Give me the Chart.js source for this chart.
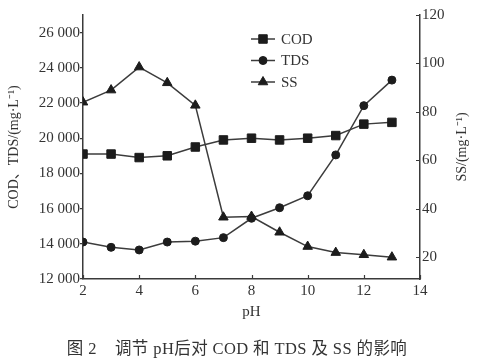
<!DOCTYPE html>
<html>
<head>
<meta charset="utf-8">
<script src="https://cdn.jsdelivr.net/npm/chart.js@4.4.1/dist/chart.umd.min.js"></script>
<style>
  html, body { margin: 0; padding: 0; background: #fff; }
  #wrap { width: 490px; height: 363px; }
</style>
</head>
<body>
<div id="wrap"><canvas id="myChart" width="490" height="363"></canvas></div>
<script>
// values
const phValues = [2, 3, 4, 5, 6, 7, 8, 9, 10, 11, 12, 13]
const codValues = [19100, 19100, 18900, 19000, 19500, 19900, 20000, 19900, 20000, 20150, 20800, 20900]
const tdsValues = [14100, 13800, 13650, 14100, 14150, 14350, 15450, 16050, 16730, 19050, 21850, 23300]
const ssValues = [84, 89, 98.5, 92, 82.7, 36.5, 36.8, 30.3, 24.4, 21.9, 21, 20]

const xTicks = [2, 4, 6, 8, 10, 12, 14]
const leftTicks = [12000, 14000, 16000, 18000, 20000, 22000, 24000, 26000]
const rightTicks = [20, 40, 60, 80, 100, 120]

const seriesNames = ['COD', 'TDS', 'SS']
const caption = '图 2    调节 pH后对 COD 和 TDS 及 SS 的影响'

const axisColor = '#3a3a3a'
const lineColor = '#3c3c3c'
const markColor = '#1c1c1c'
const textColor = '#333'
const serif = "'Liberation Serif', 'Noto Sans CJK SC', serif"

const toPoints = vals => vals.map((v, i) => ({ x: phValues[i], y: v }))
const spaced = v => String(v).replace(/\B(?=(\d{3})+$)/, ' ')
const setTicks = list => axis => { axis.ticks = list.map(v => ({ value: v })) }

// inward tick marks on the x and right axes
const innerTicks = {
    id: 'innerTicks',
    afterDatasetsDraw(chart) {
        const { ctx, scales: { x, y1 } } = chart
        ctx.save()
        ctx.strokeStyle = axisColor
        ctx.lineWidth = 1.2
        ctx.beginPath()
        x.ticks.forEach(t => {
            const px = Math.round(x.getPixelForValue(t.value)) + 0.5
            ctx.moveTo(px, x.top)
            ctx.lineTo(px, x.top - 4)
        })
        y1.ticks.forEach(t => {
            const py = Math.round(y1.getPixelForValue(t.value)) + 0.5
            ctx.moveTo(y1.left, py)
            ctx.lineTo(y1.left - 4, py)
        })
        ctx.stroke()
        ctx.restore()
    }
}

// legend inside the plot, right title reading upwards, caption
const extras = {
    id: 'extras',
    afterDraw(chart) {
        const { ctx, chartArea: a } = chart
        ctx.save()
        chart.data.datasets.forEach((ds, i) => {
            const yy = a.top + 24 + i * 21.5
            const x0 = a.left + 168
            ctx.strokeStyle = lineColor
            ctx.lineWidth = 1.5
            ctx.beginPath()
            ctx.moveTo(x0, yy)
            ctx.lineTo(x0 + 24, yy)
            ctx.stroke()
            ctx.fillStyle = markColor
            ctx.strokeStyle = markColor
            ctx.lineWidth = 1
            Chart.helpers.drawPoint(ctx, {
                pointStyle: ds.pointStyle, radius: ds.pointRadius, rotation: 0, borderWidth: 1
            }, x0 + 12, yy)
            ctx.fillStyle = textColor
            ctx.font = '15px ' + serif
            ctx.textAlign = 'left'
            ctx.textBaseline = 'middle'
            ctx.fillText(ds.label, x0 + 30, yy + 1)
        })

        ctx.fillStyle = textColor
        ctx.font = '14px ' + serif
        ctx.textAlign = 'center'
        ctx.textBaseline = 'middle'
        ctx.save()
        ctx.translate(462, (a.top + a.bottom) / 2)
        ctx.rotate(-Math.PI / 2)
        ctx.fillText('SS/(mg·L⁻¹)', 0, 0)
        ctx.restore()

        ctx.font = '16.5px ' + serif
        ctx.letterSpacing = '0.4px'
        ctx.fillText(caption, 237, 350)
        ctx.restore()
    }
}

const ctx = document.getElementById('myChart')

new Chart(ctx, {
    type: 'line',
    data: {
        datasets: [{
            label: seriesNames[0],
            data: toPoints(codValues),
            yAxisID: 'y',
            borderColor: lineColor,
            borderWidth: 1.5,
            pointStyle: 'rect',
            pointRadius: 6,
            pointBackgroundColor: markColor,
            pointBorderColor: markColor,
            pointBorderWidth: 1
        }, {
            label: seriesNames[1],
            data: toPoints(tdsValues),
            yAxisID: 'y',
            borderColor: lineColor,
            borderWidth: 1.5,
            pointStyle: 'circle',
            pointRadius: 4,
            pointBackgroundColor: markColor,
            pointBorderColor: markColor,
            pointBorderWidth: 1
        }, {
            label: seriesNames[2],
            data: toPoints(ssValues),
            yAxisID: 'y1',
            borderColor: lineColor,
            borderWidth: 1.5,
            pointStyle: 'triangle',
            pointRadius: 5.5,
            pointBackgroundColor: markColor,
            pointBorderColor: markColor,
            pointBorderWidth: 1
        }]
    },
    options: {
        responsive: false,
        animation: false,
        devicePixelRatio: 1,
        layout: { padding: { top: 15, left: 0, right: 0, bottom: 0 } },
        plugins: {
            legend: { display: false },
            tooltip: { enabled: false }
        },
        scales: {
            x: {
                type: 'linear',
                min: 2,
                max: 14,
                afterBuildTicks: setTicks(xTicks),
                afterFit: s => { s.height = 84 },
                grid: { display: false, drawTicks: false },
                border: { display: true, color: axisColor, width: 1.5 },
                ticks: { color: textColor, padding: 3, font: { family: serif, size: 15 } },
                title: {
                    display: true, text: 'pH', color: textColor,
                    font: { family: serif, size: 15 }, padding: { top: 0, bottom: 42 }
                }
            },
            y: {
                position: 'left',
                min: 12000,
                max: 27000,
                afterBuildTicks: setTicks(leftTicks),
                afterFit: s => { s.width = 83 },
                grid: { drawOnChartArea: false, drawTicks: true, tickLength: 3, color: axisColor, lineWidth: 1.2 },
                border: { display: true, color: axisColor, width: 1.5 },
                ticks: { color: textColor, padding: 0, font: { family: serif, size: 15 }, callback: v => spaced(v) },
                title: {
                    display: true, text: 'COD、TDS/(mg·L⁻¹)', color: textColor,
                    font: { family: serif, size: 14 }, padding: { top: 6, bottom: 0 }
                }
            },
            y1: {
                position: 'right',
                min: 11,
                max: 120,
                afterBuildTicks: setTicks(rightTicks),
                afterFit: s => { s.width = 70 },
                grid: { display: false, drawTicks: false },
                border: { display: true, color: axisColor, width: 1.5 },
                ticks: { color: textColor, padding: 2, font: { family: serif, size: 15 } }
            }
        }
    },
    plugins: [innerTicks, extras]
});
</script>
</body>
</html>
